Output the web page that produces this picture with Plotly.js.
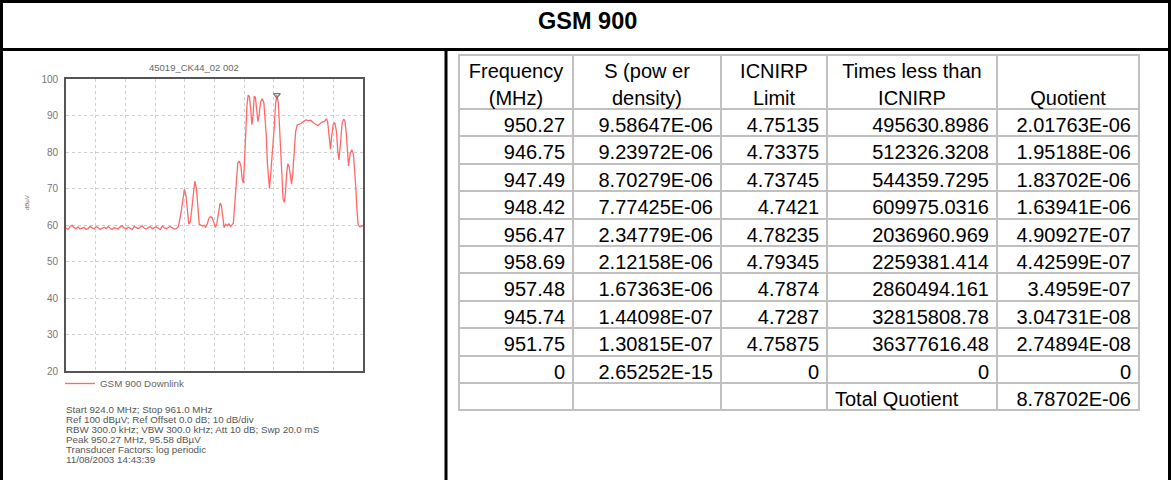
<!DOCTYPE html>
<html>
<head>
<meta charset="utf-8">
<script src="https://cdn.plot.ly/plotly-3.0.1.min.js"></script>
<style>html,body{margin:0;padding:0;background:#fff}#chart{width:1171px;height:480px}</style>
</head>
<body>
<div id="chart"></div>
<script>
// ---------- Spectrum trace (MHz, dBuV) ----------
const traceFreq = [
 924.0,924.25,924.5,924.75,925.0,925.25,925.5,925.75,926.0,926.25,926.5,926.75,927.0,927.25,927.5,927.75,
 928.0,928.25,928.5,928.75,929.0,929.25,929.5,929.75,930.0,930.25,930.5,930.75,931.0,931.25,931.5,931.75,
 932.0,932.25,932.5,932.75,933.0,933.25,933.5,933.75,934.0,934.25,934.5,934.75,935.0,935.25,935.5,935.75,
 936.0,936.25,936.5,936.75,937.0,937.25,937.5,937.75,938.0,
 938.3,938.6,938.75,938.95,939.15,939.3,939.5,939.7,939.9,940.05,940.25,940.45,940.6,940.8,941.0,941.2,
 941.4,941.6,941.8,942.0,942.2,942.4,942.6,942.8,943.0,943.2,943.35,943.55,943.7,943.9,944.1,944.3,944.5,
 944.7,944.85,945.0,945.2,945.4,945.6,945.8,945.95,946.1,946.25,946.4,946.55,946.7,946.85,947.0,947.15,
 947.3,947.45,947.6,947.75,947.9,948.05,948.25,948.45,948.65,948.8,948.95,949.1,949.25,949.35,949.5,
 949.65,949.8,949.95,950.1,950.27,950.45,950.6,950.75,950.9,951.05,951.2,951.35,951.5,951.65,951.8,
 951.95,952.1,952.25,952.4,952.6,952.8,953.0,953.3,953.6,953.9,954.2,954.5,954.8,955.1,955.4,955.6,
 955.9,956.2,956.45,956.6,956.8,956.95,957.1,957.3,957.5,957.7,957.85,958.0,958.2,958.4,958.6,958.75,
 958.9,959.05,959.2,959.4,959.6,959.8,959.95,960.1,960.25,960.4,960.6,960.8,961.0
];
const traceLevel = [
 59.2,58.8,59.6,59.9,59.3,59.0,59.5,58.9,59.1,59.4,58.8,59.0,59.6,59.2,58.9,59.5,
 59.3,58.8,59.0,59.4,59.0,59.6,59.1,58.8,59.3,59.0,58.9,59.5,59.8,59.2,59.0,59.4,
 59.1,58.8,59.6,59.3,59.0,59.4,59.8,59.1,58.9,59.3,59.6,59.0,59.2,59.5,59.1,58.8,
 59.7,59.2,59.0,59.4,59.6,59.2,58.9,59.0,59.6,
 63.0,68.5,69.8,68.0,63.5,60.2,61.0,65.0,70.5,72.0,70.0,64.0,60.2,60.0,59.7,59.9,
 59.4,60.3,61.8,62.3,62.0,60.8,59.3,60.5,63.5,66.0,65.4,62.0,59.3,60.2,59.8,60.3,59.6,
 60.1,60.5,65.0,72.0,77.0,77.5,76.0,72.5,71.5,78.0,87.0,93.0,95.6,95.2,92.0,87.5,
 90.0,95.3,95.0,92.0,88.3,90.0,93.8,94.6,93.5,89.0,84.5,76.5,71.0,70.0,74.0,
 78.0,80.5,87.0,93.0,95.58,93.5,87.0,80.5,73.0,67.0,66.2,69.0,74.5,76.8,76.0,
 73.0,71.2,74.0,80.0,85.5,87.4,87.6,87.8,88.4,88.8,88.6,88.7,88.0,87.6,87.2,87.7,
 88.2,88.4,89.1,88.2,84.5,80.8,84.5,87.6,88.0,85.5,80.5,77.8,82.5,88.0,89.0,88.5,
 85.5,80.5,76.2,79.5,80.6,79.5,75.5,70.5,64.0,60.0,59.5,59.6,59.8
];
const peakFreq = [950.27];
const peakLevel = [95.58];
const spanStart = 924.0, spanStop = 961.0;
const refTop = 100, refBottom = 20, dbPerDiv = 10;

const chartTitle = "45019_CK44_02 002";
const traceName = "GSM 900 Downlink";
const yUnit = "dBµV";
const infoLines = [
 "Start 924.0 MHz; Stop 961.0 MHz",
 "Ref 100 dBµV; Ref Offset 0.0 dB; 10 dB/div",
 "RBW 300.0 kHz; VBW 300.0 kHz; Att 10 dB; Swp 20.0 mS",
 "Peak 950.27 MHz, 95.58 dBµV",
 "Transducer Factors: log periodic",
 "11/08/2003 14:43:39"
];

// ---------- Table data ----------
const pageTitle = "GSM 900";
const headerLine1 = ["Frequency", "S (pow er", "ICNIRP", "Times less than", ""];
const headerLine2 = ["(MHz)", "density)", "Limit", "ICNIRP", "Quotient"];
const freqMHz   = [950.27, 946.75, 947.49, 948.42, 956.47, 958.69, 957.48, 945.74, 951.75, 0];
const powerDens = [9.58647e-6, 9.23972e-6, 8.70279e-6, 7.77425e-6, 2.34779e-6, 2.12158e-6, 1.67363e-6, 1.44098e-7, 1.30815e-7, 2.65252e-15];
const icnirpLim = [4.75135, 4.73375, 4.73745, 4.7421, 4.78235, 4.79345, 4.7874, 4.7287, 4.75875, 0];
const timesLess = [495630.8986, 512326.3208, 544359.7295, 609975.0316, 2036960.969, 2259381.414, 2860494.161, 32815808.78, 36377616.48, 0];
const quotient  = [2.01763e-6, 1.95188e-6, 1.83702e-6, 1.63941e-6, 4.90927e-7, 4.42599e-7, 3.4959e-7, 3.04731e-8, 2.74894e-8, 0];
const totalLabel = "Total Quotient";
const totalQuotient = 8.78702e-6;

// ---------- helpers / layout geometry ----------
const W = 1171, H = 480;
const px = x => x / W;
const py = y => 1 - y / H;
function sci(v) {
  if (v === 0) return "0";
  let [m, e] = v.toExponential().split("e");
  let sign = e[0] === "-" ? "-" : "+";
  let d = e.replace(/[+-]/, "");
  if (d.length < 2) d = "0" + d;
  return m + "E" + sign + d;
}
const num = v => String(v);

const col1 = freqMHz.map(num).concat([""]);
const col2 = powerDens.map(sci).concat([""]);
const col3 = icnirpLim.map(num).concat([""]);
const col4 = timesLess.map(num).concat([totalLabel]);
const col5 = quotient.map(sci).concat([sci(totalQuotient)]);
const nRows = col1.length;
const alignCol = c => col1.map((_, i) => (c === 3 && i === nRows - 1) ? "left" : "right");

const fontMain = "Liberation Sans, Arial, sans-serif";
const gridGray = "#c0c0c0";
const tblLeft = 459, tblTop = 55, colW = [114, 148, 106, 170, 142];
const headRowH = 27, cellH = 27.4;
const tblRight = tblLeft + colW.reduce((a, b) => a + b, 0);

const data = [
  {
    type: "scatter", mode: "lines", x: traceFreq, y: traceLevel, name: traceName,
    line: {color: "rgb(255,105,105)", width: 1.3}, xaxis: "x", yaxis: "y", hoverinfo: "skip"
  },
  {
    type: "scatter", mode: "markers", x: peakFreq, y: peakLevel, showlegend: false,
    marker: {symbol: "triangle-down-open", size: 6, color: "#777", line: {width: 1.2, color: "#777"}},
    xaxis: "x", yaxis: "y", hoverinfo: "skip"
  },
  {
    type: "table",
    domain: {x: [px(tblLeft), px(tblRight)], y: [0, py(tblTop)]},
    columnwidth: colW,
    header: {
      values: headerLine1.map((t, i) => [t, headerLine2[i]]), align: "center", height: headRowH,
      line: {color: "rgba(0,0,0,0)", width: 0}, fill: {color: "rgba(0,0,0,0)"},
      font: {family: fontMain, size: 20, color: "#000"}
    },
    cells: {
      values: [col1, col2, col3, col4, col5],
      align: [alignCol(0), alignCol(1), alignCol(2), alignCol(3), alignCol(4)],
      height: cellH,
      line: {color: gridGray, width: 2}, fill: {color: "#fff"},
      font: {family: fontMain, size: 20, color: "#000"}
    }
  }
];

const blk = {color: "#000", width: 3};
const P = {xref: "paper", yref: "paper", type: "line"};
const shapes = [
  Object.assign({x0: px(1.5), x1: px(1.5), y0: 0, y1: py(0), line: blk}, P),
  Object.assign({x0: 0, x1: 1, y0: py(1.5), y1: py(1.5), line: blk}, P),
  Object.assign({x0: px(1169.5), x1: px(1169.5), y0: 0, y1: py(0), line: blk}, P),
  Object.assign({x0: px(1.5), x1: px(1169.5), y0: py(49.5), y1: py(49.5), line: blk}, P),
  Object.assign({x0: px(446), x1: px(446), y0: 0, y1: py(49.5), line: blk}, P)
];
// header grid of the table (header rows are drawn without their own borders)
const headBottom = tblTop + 2 * headRowH;
shapes.push(Object.assign({x0: px(tblLeft), x1: px(tblRight), y0: py(tblTop), y1: py(tblTop),
  line: {color: gridGray, width: 2}}, P));
let acc = tblLeft;
[0].concat(colW).forEach(w => {
  acc += w;
  const xx = (w === 0) ? tblLeft : acc;
  if (w === 0) acc = tblLeft;
  shapes.push(Object.assign({x0: px(xx), x1: px(xx), y0: py(headBottom), y1: py(tblTop - 1),
    line: {color: gridGray, width: 2}}, P));
});

const annotations = [
  {text: "<b>" + pageTitle + "</b>", x: px(587), y: py(21), xref: "paper", yref: "paper",
   showarrow: false, font: {family: fontMain, size: 23.5, color: "#000"}, xanchor: "center", yanchor: "middle"},
  {text: chartTitle, x: px(194), y: py(67), xref: "paper", yref: "paper", showarrow: false,
   font: {family: fontMain, size: 9.5, color: "#666"}, xanchor: "center", yanchor: "middle"},
  {text: yUnit, x: px(27), y: py(203), xref: "paper", yref: "paper", showarrow: false, textangle: -90,
   font: {family: fontMain, size: 6, color: "#666"}, xanchor: "center", yanchor: "middle"}
];
infoLines.forEach((t, i) => {
  annotations.push({text: t, x: px(64), y: py(409 + i * 10), xref: "paper", yref: "paper", showarrow: false,
    font: {family: fontMain, size: 9.8, color: "#555"}, xanchor: "left", yanchor: "middle", align: "left"});
});

const layout = {
  width: W, height: H,
  margin: {l: 0, r: 0, t: 0, b: 0, pad: 0},
  paper_bgcolor: "#fff", plot_bgcolor: "#fff",
  showlegend: true,
  legend: {x: px(60), y: py(369), xanchor: "left", yanchor: "top", bgcolor: "rgba(0,0,0,0)",
    font: {family: fontMain, size: 9.8, color: "#666"}, itemwidth: 30, tracegroupgap: 0},
  xaxis: {
    domain: [px(66), px(363)], range: [spanStart, spanStop], tick0: spanStart, dtick: (spanStop - spanStart) / 10,
    showticklabels: false, ticks: "", showgrid: true, gridcolor: "#cfcfcf", griddash: "dot", gridwidth: 1,
    showline: true, mirror: true, linecolor: "#555", linewidth: 1.8, zeroline: false, fixedrange: true
  },
  yaxis: {
    domain: [py(371), py(79)], range: [refBottom, refTop], tick0: refBottom, dtick: dbPerDiv,
    showgrid: true, gridcolor: "#cfcfcf", griddash: "dot", gridwidth: 1,
    showline: true, mirror: true, linecolor: "#555", linewidth: 1.8, zeroline: false, fixedrange: true,
    tickfont: {family: fontMain, size: 10, color: "#777"}, ticks: "outside", ticklen: 4, tickcolor: "rgba(0,0,0,0)"
  },
  shapes: shapes,
  annotations: annotations
};

Plotly.newPlot("chart", data, layout, {staticPlot: true, displayModeBar: false});
</script>
</body>
</html>
